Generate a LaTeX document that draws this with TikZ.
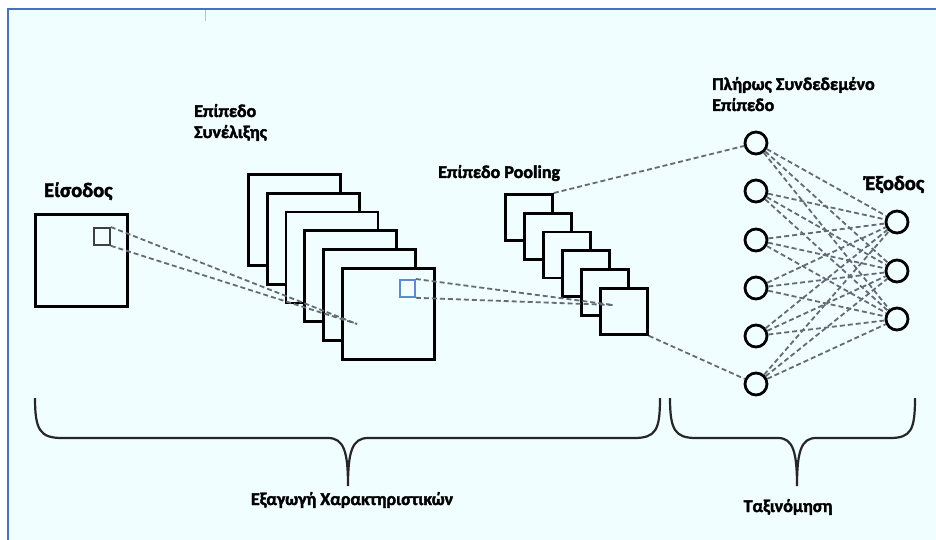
\documentclass[tikz,border=0pt]{standalone}
\usepackage{fontspec}
\setmainfont{Carlito}[BoldFeatures={FakeBold=2}]
\definecolor{bgc}{RGB}{240,254,255}
\definecolor{framec}{RGB}{68,114,196}
\definecolor{dashc}{RGB}{100,106,118}
\definecolor{bluesq}{RGB}{90,140,210}
\tikzset{
  sq/.style={draw=black, line width=2.8pt, fill=bgc, rectangle, inner sep=0pt, anchor=north west},
  smallsq/.style={draw=black!75, line width=1.8pt, rectangle, inner sep=0pt, anchor=north west},
  dline/.style={draw=dashc, line width=1.8pt, dash pattern=on 5pt off 3pt},
  neuron/.style={draw=black, line width=2.8pt, fill=bgc, circle, minimum size=22pt, inner sep=0pt},
  lbl/.style={font=\bfseries\fontsize{18}{21}\selectfont, inner sep=0pt, anchor=base west},
  biglbl/.style={font=\bfseries\fontsize{20.5}{24}\selectfont, inner sep=0pt, anchor=base west},
  brace/.style={draw=black!85, line width=2.2pt},
}
\begin{document}
\begin{tikzpicture}[x=1pt,y=-1pt]
\useasboundingbox (0,0) rectangle (936,540);
\fill[white] (0,0) rectangle (936,540);
\fill[bgc] (8,9) rectangle (936,540);
\draw[framec, line width=2.2pt] (8,540) -- (8,9) -- (936,9);
\draw[black!25, line width=0.6pt] (205,10) -- (205,21);

% input
\node[sq, minimum width=92pt, minimum height=92pt] (in) at (34,213) {};
\node[smallsq, minimum width=16pt, minimum height=17pt] (inw) at (93,227) {};
\node[biglbl] (lin) at (44,197) {Είσοδος};

% convolution stack
\foreach \i in {0,...,5} {
  \node[sq, minimum width=92pt, minimum height=91pt] (c\i) at ({247+18.8*\i},{173+18.8*\i}) {};
}
\node[draw=bluesq, line width=1.8pt, rectangle, inner sep=0pt, anchor=north west, minimum width=15pt, minimum height=17pt] (cw) at (399,279) {};
\node[lbl] (lconv1) at (194,117) {Επίπεδο};
\node[lbl] (lconv2) at (194,138) {Συνέλιξης};

\coordinate (cv) at (357,324);
\draw[dline] (inw.north east) -- (cv);
\draw[dline] (inw.south east) -- (cv);

% pooling stack
\foreach \i in {0,...,5} {
  \node[sq, minimum width=47pt, minimum height=46pt] (p\i) at ({504+19*\i},{193+18.8*\i}) {};
}
\node[lbl] (lpool) at (438,178) {Επίπεδο Pooling};
\coordinate (pv) at (613,305);
\draw[dline] (cw.north east) -- (pv);
\draw[dline] (cw.south east) -- (pv);

% fully connected
\foreach \i/\yy in {1/143,2/191,3/240,4/288,5/336,6/384} {
  \node[neuron] (h\i) at (756,\yy) {};
}
\foreach \j/\yy in {1/222,2/271,3/319} {
  \node[neuron] (o\j) at (897,\yy) {};
}
\foreach \i in {1,...,6} {
  \foreach \j in {1,2,3} {
    \draw[dline] (h\i) -- (o\j);
  }
}
\draw[dline] (p0.north east) -- (h1);
\draw[dline] (p5.south east) -- (h6);
\node[lbl] (lfc1) at (712,90) {Πλήρως Συνδεδεμένο};
\node[lbl] (lfc2) at (712,111) {Επίπεδο};
\node[biglbl] (lout) at (865,190) {Έξοδος};

% braces
\draw[brace] (35,398) .. controls (35,430) and (40,438) .. (62,438) -- (328,438)
  .. controls (344,438) and (348,452) .. (348,486)
  .. controls (348,452) and (352,438) .. (368,438) -- (634,438)
  .. controls (656,438) and (660,430) .. (660,398);
\draw[brace] (670,398) .. controls (670,430) and (675,438) .. (696,438) -- (778,438)
  .. controls (793,438) and (797,452) .. (797,486)
  .. controls (797,452) and (801,438) .. (816,438) -- (890,438)
  .. controls (911,438) and (915,430) .. (915,398);
\node[font=\bfseries\fontsize{18}{21}\selectfont, inner sep=0pt, anchor=base] (lfe) at (352,505) {Εξαγωγή Χαρακτηριστικών};
\node[font=\bfseries\fontsize{18}{21}\selectfont, inner sep=0pt, anchor=base] (lcl) at (788,512) {Ταξινόμηση};
\end{tikzpicture}
\end{document}
